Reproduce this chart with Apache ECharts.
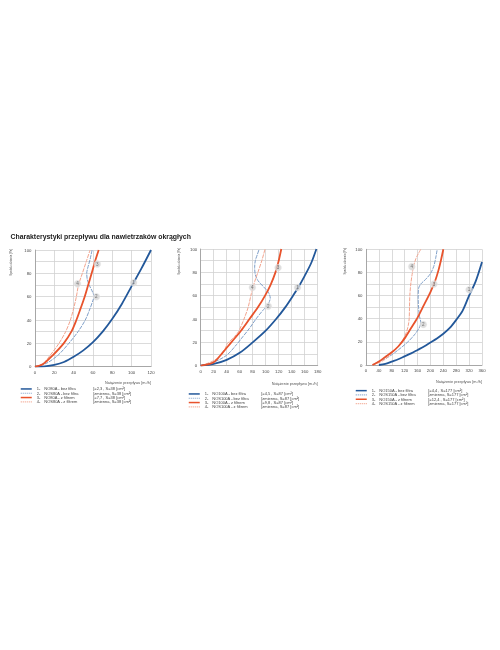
<!DOCTYPE html>
<html><head><meta charset="utf-8">
<script src="https://cdn.jsdelivr.net/npm/echarts@6/dist/echarts.min.js"></script>
<style>html,body{margin:0;padding:0;background:#fff}#c{width:500px;height:650px;will-change:transform}</style>
</head><body><div id="c"></div>
<script>
// ---------- data ----------
const titleText = 'Charakterystyki przepływu dla nawietrzaków okrągłych';
const yName = 'Spadek ciśnienia [Pa]';
const xName = 'Natężenie przepływu [m³/h]';

// chart 1: NO80A / NOS80A
const c1Names = ['NO80A - bez filtra', 'NOS80A - bez filtra', 'NO80A - z filtrem', 'NOS80A - z filtrem'];
const c1Params = ['[=2,3 , S=38 [cm²]', '[zmienna, S=38 [cm²]', '[=7,7 , S=38 [cm²]', '[zmienna, S=38 [cm²]'];
const c1s1 = [[0,0],[10,0.3],[20,1.5],[30,4],[40,8.5],[50,14],[60,21],[70,30],[80,41],[90,54],[100,69],[110,84],[120,100]];
const c1s2 = [[0,0],[12,3],[24,10],[35,20],[44.5,30],[52,40],[57,50],[60,57],[61,60],[59,65],[56,70],[54,75],[53.5,80],[55,86],[57,92],[59,100]];
const c1s3 = [[0,0],[8,2],[18.6,10],[29.7,20],[37.6,30],[42.8,40],[47.2,50],[51.4,60],[55,70],[58.6,80],[62,90],[65.9,100]];
const c1s4 = [[0,0],[8,2.5],[15.9,10],[24.8,20],[31.7,30],[36.6,40],[40,50],[42.8,60],[45,70],[49,80],[53,90],[57,100]];
const c1Marks = [[102,72,'1'],[63.5,60,'2'],[64.5,88,'3'],[44,71,'4']];

// chart 2: NO100A / NOS100A
const c2Names = ['NO100A - bez filtra', 'NOS100A - bez filtra', 'NO100A - z filtrem', 'NOS100A - z filtrem'];
const c2Params = ['[=4,5 , S=87 [cm²]', '[zmienna, S=87 [cm²]', '[=9,8 , S=87 [cm²]', '[zmienna, S=87 [cm²]'];
const c2s1 = [[0,0],[20,1.5],[40,5],[60,11],[80,20],[100,30],[116,40],[130,50],[142,60],[150,67],[160,77],[170,88],[178,100]];
const c2s2 = [[0,0],[20,3],[40,9],[55,18],[65,25],[75,32],[85,40],[95,47],[103,52],[107,58],[104,63],[96,68],[88,73],[84,78],[83,84],[84,90],[87,95],[90,100]];
const c2s3 = [[0,0],[20,3],[32,10],[47,20],[62,30],[75,40],[88,50],[99,60],[108,70],[115,80],[120,90],[124,100]];
const c2s4 = [[0,0],[15,3],[25,6],[32,10],[38,15],[41,19],[45,21],[52,25],[58,29],[63,35],[68,42],[73,50],[78,62],[83,72],[88,80],[94,90],[99,100]];
const c2Marks = [[149,67,'1'],[104,51,'2'],[119,84,'3'],[79.5,67,'4']];

// chart 3: NO150A / NOS150A
const c3Names = ['NO150A - bez filtra', 'NOS150A - bez filtra', 'NO150A - z filtrem', 'NOS150A - z filtrem'];
const c3Params = ['[=4,4 , S=177 [cm²]', '[zmienna, S=177 [cm²]', '[=12,4 , S=177 [cm²]', '[zmienna, S=177 [cm²]'];
const c3s1 = [[40,0],[60,1],[80,3],[100,5],[120,7.5],[140,10],[160,13],[180,16],[200,19.5],[220,23],[240,27],[260,32],[280,39],[300,47],[320,60],[340,72],[360,89]];
const c3s2 = [[20,0],[40,3],[70,7],[100,13],[130,20],[150,26],[165,32],[170,37],[166,42],[163,50],[162,58],[163,66],[170,70],[185,74],[200,79],[210,85],[216,92],[221,100]];
const c3s3 = [[20,0],[40,3],[60,7],[80,11],[100,16],[120,23],[140,32],[160,41],[180,52],[200,63],[215,73],[225,82],[233,91],[240,100]];
const c3s4 = [[20,0],[40,2],[60,5],[80,10],[100,16],[115,22],[125,28],[131,34],[134,40],[135,50],[136,60],[139,70],[143,78],[148,86],[155,92],[162,96],[170,100]];
const c3Marks = [[320,65,'1'],[178,35,'2'],[211,70,'3'],[142,85,'4']];

const xMax = [120, 180, 360];
const xStep = [20, 20, 40];
const yTicks = [0, 20, 40, 60, 80, 100];

// ---------- styling ----------
const colors = ['#23589a', '#7f9fc8', '#e8532c', '#f2a48e'];
const widths = [1.8, 1, 1.8, 1];
const types = ['solid', [4, 1], 'solid', [4, 1]];
const font = "'Liberation Sans Narrow','Liberation Sans',Arial,sans-serif";

const grids = [
  {left: 35, top: 250, width: 116, height: 116.7},
  {left: 200.7, top: 249, width: 117, height: 116.7},
  {left: 366, top: 249.3, width: 116, height: 115.7}
];
const legendPos = [{left: 20, top: 386.8}, {left: 188, top: 391.8}, {left: 355, top: 388.5}];
const xNamePad = [14.3, 16, 14.5];
const yNameGap = [23, 20.7, 20.3];

const allNames = [c1Names, c2Names, c3Names];
const allParams = [c1Params, c2Params, c3Params];
const allData = [[c1s1, c1s2, c1s3, c1s4], [c2s1, c2s2, c2s3, c2s4], [c3s1, c3s2, c3s3, c3s4]];
const allMarks = [c1Marks, c2Marks, c3Marks];

const lookup = {};
allNames.forEach((ns, g) => ns.forEach((n, i) => { lookup[n] = {num: (i + 1) + '-', p: allParams[g][i]}; }));

const xAxes = [], yAxes = [], series = [], legends = [];
grids.forEach((gr, g) => {
  xAxes.push({
    gridIndex: g, type: 'value', min: 0, max: xMax[g], interval: xStep[g],
    name: xName, nameLocation: 'end', nameGap: 0,
    nameTextStyle: {fontSize: 3.8, color: '#555', align: 'right', verticalAlign: 'top', padding: [xNamePad[g], 0, 0, 0], fontFamily: font},
    axisLine: {show: true, lineStyle: {color: '#9a9a9a', width: 0.8}},
    axisTick: {show: false},
    axisLabel: {fontSize: 4.3, color: '#444', margin: 3.5, fontFamily: font},
    splitLine: {show: true, lineStyle: {color: '#d2d2d2', width: 0.8}}
  });
  yAxes.push({
    gridIndex: g, type: 'value', min: 0, max: 100, interval: 10,
    name: yName, nameLocation: 'middle', nameGap: yNameGap[g],
    nameTextStyle: {fontSize: 2.8, color: '#555', padding: [0, 0, 0, 92], fontFamily: font},
    axisLine: {show: true, lineStyle: {color: '#9a9a9a', width: 0.8}},
    axisTick: {show: false},
    axisLabel: {fontSize: 4.3, color: '#444', margin: 3.5, fontFamily: font,
      formatter: v => (yTicks.indexOf(v) >= 0 ? String(v) : '')},
    splitLine: {show: true, lineStyle: {color: '#d2d2d2', width: 0.8}}
  });
  allData[g].forEach((d, i) => {
    series.push({
      name: allNames[g][i], type: 'line', xAxisIndex: g, yAxisIndex: g,
      data: d, symbol: 'none', smooth: 0.3, z: i === 0 || i === 2 ? 3 : 2,
      lineStyle: {color: colors[i], width: widths[i], type: types[i]},
      itemStyle: {color: colors[i]}
    });
  });
  series.push({
    type: 'scatter', xAxisIndex: g, yAxisIndex: g, data: allMarks[g], z: 5,
    symbol: 'circle', symbolSize: 7,
    itemStyle: {color: '#d6d6d6', borderColor: '#eeeeee', borderWidth: 0.5},
    label: {show: true, position: 'inside', formatter: p => p.value[2], fontSize: 4.6, color: '#555', fontFamily: font}
  });
  legends.push({
    left: legendPos[g].left, top: legendPos[g].top, orient: 'vertical',
    itemWidth: 11, itemHeight: 4.3, itemGap: 0, padding: 0,
    data: allNames[g].map((n, i) => ({name: n, itemStyle: {opacity: 0, borderWidth: 0},
      lineStyle: {type: i % 2 === 1 ? [1, 1] : 'solid', width: i % 2 === 1 ? 1.2 : 1.5, color: colors[i]}})),
    formatter: n => `{a|${lookup[n].num}}{b|${n}}{c|${lookup[n].p}}`,
    textStyle: {
      fontSize: 4, color: '#444', fontFamily: font, lineHeight: 4.3,
      rich: {
        a: {width: 7.5, fontSize: 4, lineHeight: 4.3, color: '#444', fontFamily: font},
        b: {width: 49, fontSize: 4, lineHeight: 4.3, color: '#444', fontFamily: font},
        c: {fontSize: 4, lineHeight: 4.3, color: '#444', fontFamily: font}
      }
    }
  });
});

const chart = echarts.init(document.getElementById('c'), null, {renderer: 'svg'});
chart.setOption({
  animation: false,
  title: {text: titleText, left: 10.5, top: 232.8, padding: 0,
    textStyle: {fontSize: 6.9, fontWeight: 'bold', color: '#1a1a1a', fontFamily: "'Liberation Sans',Arial,sans-serif"}},
  grid: grids,
  xAxis: xAxes,
  yAxis: yAxes,
  legend: legends,
  series: series
});
</script>
</body></html>
